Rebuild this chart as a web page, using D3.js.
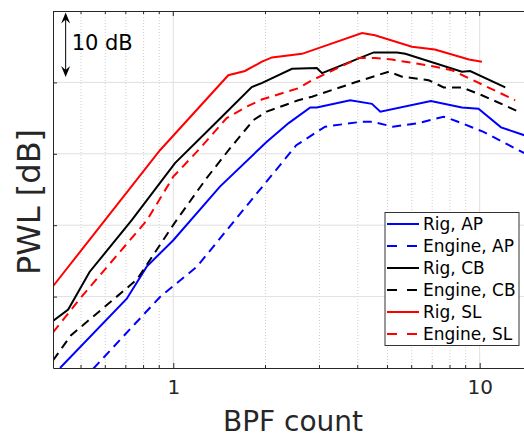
<!DOCTYPE html>
<html>
<head>
<meta charset="utf-8">
<script src="https://cdn.jsdelivr.net/npm/d3@7"></script>
<style>
  body { margin: 0; background: #fff; }
  svg { display: block; font-family: "DejaVu Sans", sans-serif; }
</style>
</head>
<body>
<svg id="chart"></svg>
<script>
// values (x = BPF count, y = PWL in dB, arbitrary offset)
const rigApX = [0.427, 0.705, 0.819, 1.0, 1.42, 2.02, 2.38, 2.80, 2.94, 3.78, 4.45, 4.74, 6.93, 8.75, 9.91, 11.74, 14];
const rigApY = [0, 9.7, 14.2, 17.9, 25.4, 31.7, 34.3, 36.5, 36.5, 37.5, 37.0, 35.9, 37.4, 36.5, 36.3, 33.7, 32.6];

const engApX = [0.548, 0.905, 1.192, 2.52, 3.13, 4.13, 4.45, 5.21, 6.23, 7.62, 8.37, 10.25, 13.34, 14];
const engApY = [-0.1, 9.95, 14.15, 31.2, 33.8, 34.5, 34.5, 33.8, 34.25, 35.2, 34.6, 33.1, 30.55, 30.1];

const rigCbX = [0.405, 0.454, 0.533, 0.732, 1.013, 1.351, 1.803, 1.943, 2.44, 2.94, 3.06, 4.51, 5.37, 5.72, 8.75, 9.31, 12.12];
const rigCbY = [6.6, 8.2, 13.45, 20.7, 28.7, 34.0, 39.35, 39.9, 41.9, 42.0, 41.3, 44.2, 44.2, 44.0, 41.5, 41.6, 39.3];

const engCbX = [0.405, 0.464, 0.706, 0.761, 1.013, 1.285, 1.531, 1.824, 2.018, 2.558, 2.836, 3.95, 5.05, 5.58, 6.82, 7.63, 8.75, 10.17, 13.41];
const engCbY = [1.07, 4.6, 11.2, 12.4, 20.4, 26.6, 30.75, 34.7, 35.9, 37.5, 38.0, 40.05, 41.5, 40.8, 40.3, 39.3, 39.3, 38.2, 35.9];

const rigSlX = [0.405, 0.905, 1.512, 1.714, 1.948, 2.10, 2.63, 4.13, 4.55, 6.01, 7.14, 9.23, 10.17];
const rigSlY = [11.45, 30.5, 41.0, 41.6, 42.9, 43.5, 44.0, 46.9, 46.6, 45.0, 44.6, 43.2, 42.9];

const engSlX = [0.405, 0.507, 0.821, 1.0, 1.222, 1.494, 1.736, 1.943, 2.567, 2.836, 4.03, 4.56, 5.17, 7.16, 8.12, 9.21, 13.06];
const engSlY = [5.0, 10.2, 20.7, 26.8, 30.75, 35.0, 36.6, 37.6, 39.2, 40.3, 43.4, 43.4, 43.2, 42.2, 41.7, 40.6, 37.5];

const labels = ["Rig, AP", "Engine, AP", "Rig, CB", "Engine, CB", "Rig, SL", "Engine, SL"];
const xTickLabels = [1, 10];
const yGridValues = [10, 20, 30, 40];
// 10 dB scale bar
const barX = 0.4454, barTop = 49.8, barBottom = 40.75;

const colors = ["#0000ff", "#0000ff", "#000000", "#000000", "#ff0000", "#ff0000"];
const dashed = [false, true, false, true, false, true];

const xs = [rigApX, engApX, rigCbX, engCbX, rigSlX, engSlX];
const ys = [rigApY, engApY, rigCbY, engCbY, rigSlY, engSlY];
const series = labels.map((name, i) => ({
  name, color: colors[i], dashed: dashed[i],
  values: xs[i].map((v, j) => ({ x: v, y: ys[i][j] }))
}));

const width = 524, height = 437;
const plotLeft = 53, plotTop = 11, plotBottom = 368;
const decade = 306.4;
const xMax = 16;
const plotRight = plotLeft + (Math.log10(xMax) - Math.log10(0.405)) * decade;

const svg = d3.select("#chart").attr("width", width).attr("height", height);

const x = d3.scaleLog().domain([0.405, xMax]).range([plotLeft, plotRight]);
const y = d3.scaleLinear().domain([0, 50]).range([plotBottom, plotTop]);

const axisColor = "#262626";

// grid
const minor = x.ticks().filter(t => !xTickLabels.includes(t));
svg.append("g").selectAll("line").data(minor).enter().append("line")
  .attr("x1", d => x(d)).attr("x2", d => x(d))
  .attr("y1", plotTop).attr("y2", plotBottom)
  .attr("stroke", "#cfcfcf").attr("stroke-dasharray", "1,2");
svg.append("g").selectAll("line").data(xTickLabels).enter().append("line")
  .attr("x1", d => x(d)).attr("x2", d => x(d))
  .attr("y1", plotTop).attr("y2", plotBottom)
  .attr("stroke", "#e0e0e0");
svg.append("g").selectAll("line").data(yGridValues).enter().append("line")
  .attr("x1", plotLeft).attr("x2", plotRight)
  .attr("y1", d => y(d)).attr("y2", d => y(d))
  .attr("stroke", "#e0e0e0");

// data lines
svg.append("clipPath").attr("id", "plotclip").append("rect")
  .attr("x", plotLeft).attr("y", plotTop)
  .attr("width", plotRight - plotLeft).attr("height", plotBottom - plotTop);

const line = d3.line().x(d => x(d.x)).y(d => y(d.y));
svg.append("g").attr("clip-path", "url(#plotclip)")
  .selectAll("path").data(series).enter().append("path")
  .attr("d", d => line(d.values))
  .attr("fill", "none")
  .attr("stroke", d => d.color)
  .attr("stroke-width", 2)
  .attr("stroke-dasharray", d => d.dashed ? "9,6" : null);

// axes
const xAxis = svg.append("g").attr("transform", `translate(0,${plotBottom})`)
  .call(d3.axisBottom(x).tickValues(xTickLabels).tickFormat(d3.format("d"))
    .tickSizeInner(-5).tickSizeOuter(0).tickPadding(12));
xAxis.select(".domain").attr("stroke", axisColor);
xAxis.selectAll(".tick line").attr("stroke", axisColor);
xAxis.selectAll(".tick text").attr("fill", axisColor).attr("font-size", 20)
  .attr("font-family", "DejaVu Sans");

// minor ticks bottom and top
svg.append("g").selectAll("line").data(minor).enter().append("line")
  .attr("x1", d => x(d)).attr("x2", d => x(d))
  .attr("y1", plotBottom).attr("y2", plotBottom - 3).attr("stroke", axisColor);
svg.append("g").selectAll("line").data(minor).enter().append("line")
  .attr("x1", d => x(d)).attr("x2", d => x(d))
  .attr("y1", plotTop).attr("y2", plotTop + 3).attr("stroke", axisColor);
svg.append("g").selectAll("line").data(xTickLabels).enter().append("line")
  .attr("x1", d => x(d)).attr("x2", d => x(d))
  .attr("y1", plotTop).attr("y2", plotTop + 5).attr("stroke", axisColor);

const yAxis = svg.append("g").attr("transform", `translate(${plotLeft},0)`)
  .call(d3.axisLeft(y).tickValues(yGridValues).tickFormat("").tickSizeInner(-4).tickSizeOuter(0));
yAxis.select(".domain").attr("stroke", axisColor);
yAxis.selectAll(".tick line").attr("stroke", axisColor);

svg.append("line").attr("x1", plotLeft).attr("x2", plotRight)
  .attr("y1", plotTop + 0.5).attr("y2", plotTop + 0.5).attr("stroke", axisColor);

// axis labels
svg.append("text").attr("x", 293).attr("y", 431)
  .attr("text-anchor", "middle").attr("font-size", 28).attr("fill", axisColor)
  .text("BPF count");
svg.append("text").attr("transform", "translate(40,202) rotate(-90)")
  .attr("text-anchor", "middle").attr("font-size", 32).attr("fill", axisColor)
  .text("PWL [dB]");

// 10 dB bar
const bx = x(barX), by1 = y(barTop), by2 = y(barBottom);
svg.append("line").attr("x1", bx).attr("x2", bx).attr("y1", by1 + 4).attr("y2", by2 - 4)
  .attr("stroke", "#000").attr("stroke-width", 1);
svg.append("path")
  .attr("d", `M${bx},${by1} L${bx - 4.5},${by1 + 11} L${bx},${by1 + 7} L${bx + 4.5},${by1 + 11} Z`)
  .attr("fill", "#000");
svg.append("path")
  .attr("d", `M${bx},${by2} L${bx - 4.5},${by2 - 11} L${bx},${by2 - 7} L${bx + 4.5},${by2 - 11} Z`)
  .attr("fill", "#000");
svg.append("text").attr("x", bx + 6).attr("y", 50)
  .attr("font-size", 21).attr("fill", "#000").text("10 dB");

// legend
const lg = svg.append("g").attr("transform", "translate(385,212.5)");
lg.append("rect").attr("width", 134).attr("height", 133)
  .attr("fill", "#fff").attr("stroke", "#333");
const items = lg.selectAll("g.item").data(series).enter().append("g")
  .attr("transform", (d, i) => `translate(0,${11.5 + i * 22})`);
items.append("line").attr("x1", 2).attr("x2", 34)
  .attr("stroke", d => d.color).attr("stroke-width", 2)
  .attr("stroke-dasharray", d => d.dashed ? "10,10" : null);
items.append("text").attr("x", 38).attr("y", 6)
  .attr("font-size", 17).attr("fill", "#000").text(d => d.name);
</script>
</body>
</html>
